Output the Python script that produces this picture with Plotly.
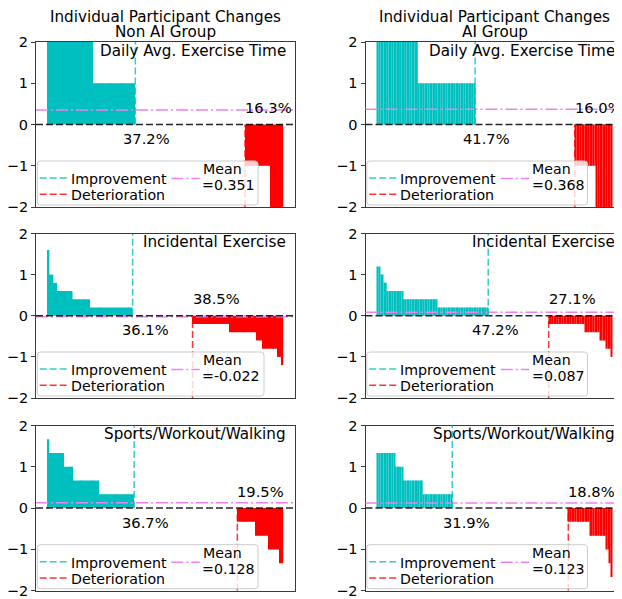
import plotly.graph_objects as go

# ---------------- data ----------------
# each panel: (change value, number of participants), sorted from largest to smallest change
groups = ["Non AI Group", "AI Group"]
metrics = ["Daily Avg. Exercise Time", "Incidental Exercise", "Sports/Workout/Walking"]

non_ai_daily = [(3.25, 1), (3, 3), (2, 21), (1, 23), (0, 60), (-1, 14), (-2, 3), (-3, 4)]
non_ai_incidental = [(1.6, 1), (1.0, 2), (0.8, 2), (0.6, 8), (0.4, 9), (0.2, 22), (0, 31),
                     (-0.2, 19), (-0.4, 14), (-0.6, 3), (-0.8, 8), (-1.0, 2), (-1.2, 1)]
non_ai_sports = [(1.667, 1), (1.333, 8), (1.0, 5), (0.667, 14), (0.333, 19), (0, 56),
                 (-0.333, 10), (-0.667, 7), (-1.0, 6), (-1.333, 2)]
ai_daily = [(3, 1), (2, 24), (1, 35), (0, 61), (-1, 13), (-2, 10)]
ai_incidental = [(1.2, 2), (1.0, 2), (0.8, 2), (0.6, 10), (0.4, 21), (0.2, 31), (0, 37),
                 (-0.2, 22), (-0.4, 9), (-0.6, 4), (-0.8, 3), (-1.0, 1)]
ai_sports = [(1.333, 11), (1.0, 5), (0.667, 12), (0.333, 18), (0, 71),
             (-0.333, 13), (-0.667, 10), (-1.0, 2), (-1.333, 1), (-1.667, 1)]

# mean change per panel (as printed in the legends)
mean_non_ai = [0.351, -0.022, 0.128]
mean_ai = [0.368, 0.087, 0.123]

panel_runs = [[non_ai_daily, ai_daily],
              [non_ai_incidental, ai_incidental],
              [non_ai_sports, ai_sports]]
panel_means = [[mean_non_ai[r], mean_ai[r]] for r in range(3)]

# ---------------- layout constants (page pixels) ----------------
W, H = 622, 599
OFF = 8  # page body margin in the browser
FONT = "DejaVu Sans"
col_L = [36, 365.5]
col_R = [295, 624]
row_T = [42, 233.5, 425.5]
row_B = [207, 398, 590.7]
imp_label_dx = [[6.1, 6.8], [6.4, 4.3], [6.4, 8.8]]

CYAN = "#00BFBF"
RED = "#FF0000"
VIOLET = "#EE82EE"
DASH = "7px,3px"
DASHDOT = "12px,3px,2px,3px"
TITLE = 15.2
TXT = 15.2
PCT = 14.7
TICK = 14.5
LEG = 14.2


def PX(px):
    return (px - OFF) / W


def PY(py):
    return 1 - (py - OFF) / H


fig = go.Figure()
shapes = []
annotations = []
layout_axes = {}

for r in range(3):
    for c in range(2):
        k = r * 2 + c + 1
        sfx = "" if k == 1 else str(k)
        runs = panel_runs[r][c]
        values = [v for v, cnt in runs for _ in range(cnt)]
        n = len(values)
        n_imp = sum(1 for v in values if v > 0)
        n_det = sum(1 for v in values if v < 0)
        mean_v = panel_means[r][c]

        xs = list(range(n))
        ys = [v if v != 0 else None for v in values]
        cols = [CYAN if v > 0 else RED for v in values]
        fig.add_trace(go.Bar(x=xs, y=ys, width=0.8, marker=dict(color=cols, line=dict(width=0)),
                             xaxis="x" + sfx, yaxis="y" + sfx, showlegend=False,
                             hoverinfo="skip"))

        L, R, T, B = col_L[c], col_R[c], row_T[r], row_B[r]
        lo = -0.4 - 0.05 * (n - 0.2)
        hi = n - 0.6 + 0.05 * (n - 0.2)
        Rv = min(R, W + OFF)
        hi_vis = lo + (hi - lo) * (Rv - L) / (R - L)

        layout_axes["xaxis" + sfx] = dict(domain=[PX(L), PX(Rv)], range=[lo, hi_vis],
                                          anchor="y" + sfx, showticklabels=False, ticks="",
                                          showgrid=False, zeroline=False, showline=True,
                                          automargin=False,
                                          linecolor="#3a3a3a", linewidth=1, mirror=True)
        layout_axes["yaxis" + sfx] = dict(domain=[PY(B), PY(T)], range=[-2, 2],
                                          anchor="x" + sfx, tickvals=[-2, -1, 0, 1, 2],
                                          ticks="outside", ticklen=4, tickwidth=1,
                                          ticklabelstandoff=0, automargin=False,
                                          tickcolor="#3a3a3a", showgrid=False, zeroline=False,
                                          showline=True, linecolor="#3a3a3a", linewidth=1,
                                          mirror=True,
                                          tickfont=dict(family=FONT, size=TICK, color="black"))

        imp_b = n_imp - 0.5
        det_b = n - n_det - 0.5
        xr, yr = "x" + sfx, "y" + sfx
        # reference lines
        shapes.append(dict(type="line", xref=xr + " domain", yref=yr, x0=0, x1=1, y0=mean_v, y1=mean_v,
                           line=dict(color=VIOLET, width=1.5, dash=DASHDOT), layer="above"))
        shapes.append(dict(type="line", xref=xr + " domain", yref=yr, x0=0, x1=1, y0=0, y1=0,
                           line=dict(color="rgba(0,0,0,0.85)", width=1.5, dash=DASH), layer="above"))
        shapes.append(dict(type="line", xref=xr, yref=yr, x0=imp_b, x1=imp_b, y0=0, y1=2,
                           line=dict(color="rgba(0,191,191,0.8)", width=1.5, dash=DASH), layer="above"))
        shapes.append(dict(type="line", xref=xr, yref=yr, x0=det_b, x1=det_b, y0=-2, y1=0,
                           line=dict(color="rgba(255,0,0,0.8)", width=1.5, dash=DASH), layer="above"))

        # percentage labels
        annotations.append(dict(xref=xr, yref=yr, x=imp_b + imp_label_dx[r][c], y=-0.34,
                                text=f"{100 * n_imp / n:.1f}%", showarrow=False,
                                xanchor="center", yanchor="middle", borderpad=0, borderwidth=0,
                                font=dict(family=FONT, size=PCT, color="black")))
        annotations.append(dict(xref=xr, yref=yr, x=det_b, y=0.41,
                                text=f"{100 * n_det / n:.1f}%", showarrow=False,
                                xanchor="left", yanchor="middle", borderpad=0, borderwidth=0,
                                font=dict(family=FONT, size=PCT, color="black")))
        # metric label
        annotations.append(dict(xref="paper", yref="paper", x=PX(R - 9.5), y=PY(T + 8.6),
                                text=metrics[r], showarrow=False, xanchor="right", yanchor="middle",
                                borderpad=0, borderwidth=0,
                                font=dict(family=FONT, size=TXT, color="black")))

        # legend box
        mean_txt = f"={mean_v:.3f}"
        bw = 228 if "-" in mean_txt else 222
        x0, x1 = PX(L + 1.3), PX(L + bw)
        y0, y1 = PY(B - 2), PY(B - 46)
        rx, ry = 3 / W, 3 / H
        path = (f"M{x0 + rx},{y0} L{x1 - rx},{y0} Q{x1},{y0} {x1},{y0 + ry} "
                f"L{x1},{y1 - ry} Q{x1},{y1} {x1 - rx},{y1} L{x0 + rx},{y1} "
                f"Q{x0},{y1} {x0},{y1 - ry} L{x0},{y0 + ry} Q{x0},{y0} {x0 + rx},{y0} Z")
        shapes.append(dict(type="path", xref="paper", yref="paper", path=path,
                           fillcolor="rgba(255,255,255,0.8)",
                           line=dict(color="#cccccc", width=1), layer="above"))
        for yy, colr, dsh, xa, xb in [(B - 29, "rgba(0,191,191,0.8)", DASH, L + 3.7, L + 33.7),
                                      (B - 12.7, "rgba(255,0,0,0.8)", DASH, L + 3.7, L + 33.7),
                                      (B - 28.5, VIOLET, DASHDOT, L + 135.3, L + 163.7)]:
            shapes.append(dict(type="line", xref="paper", yref="paper", x0=PX(xa), x1=PX(xb),
                               y0=PY(yy), y1=PY(yy), line=dict(color=colr, width=1.5, dash=dsh),
                               layer="above"))
        for txt, xx, yy in [("Improvement", L + 34.7, B - 28), ("Deterioration", L + 34.7, B - 12),
                            ("Mean", L + 166.8, B - 38), (mean_txt, L + 166.3, B - 22)]:
            annotations.append(dict(xref="paper", yref="paper", x=PX(xx), y=PY(yy), text=txt,
                                    showarrow=False, xanchor="left", yanchor="middle",
                                    borderpad=0, borderwidth=0,
                                    font=dict(family=FONT, size=LEG, color="black")))

# column titles
for c in range(2):
    cx = (col_L[c] + col_R[c]) / 2
    for txt, yy in [("Individual Participant Changes", 16.9), (groups[c], 31.9)]:
        annotations.append(dict(xref="paper", yref="paper", x=PX(cx), y=PY(yy), text=txt,
                                showarrow=False, xanchor="center", yanchor="middle",
                                borderpad=0, borderwidth=0,
                                font=dict(family=FONT, size=TITLE, color="black")))

fig.update_layout(width=W, height=H, autosize=False,
                  margin=dict(l=0, r=0, t=0, b=0, pad=0, autoexpand=False),
                  paper_bgcolor="white", plot_bgcolor="white",
                  barmode="overlay", showlegend=False,
                  font=dict(family=FONT, size=TXT, color="black"),
                  shapes=shapes, annotations=annotations, **layout_axes)

fig.write_html("out.html")
